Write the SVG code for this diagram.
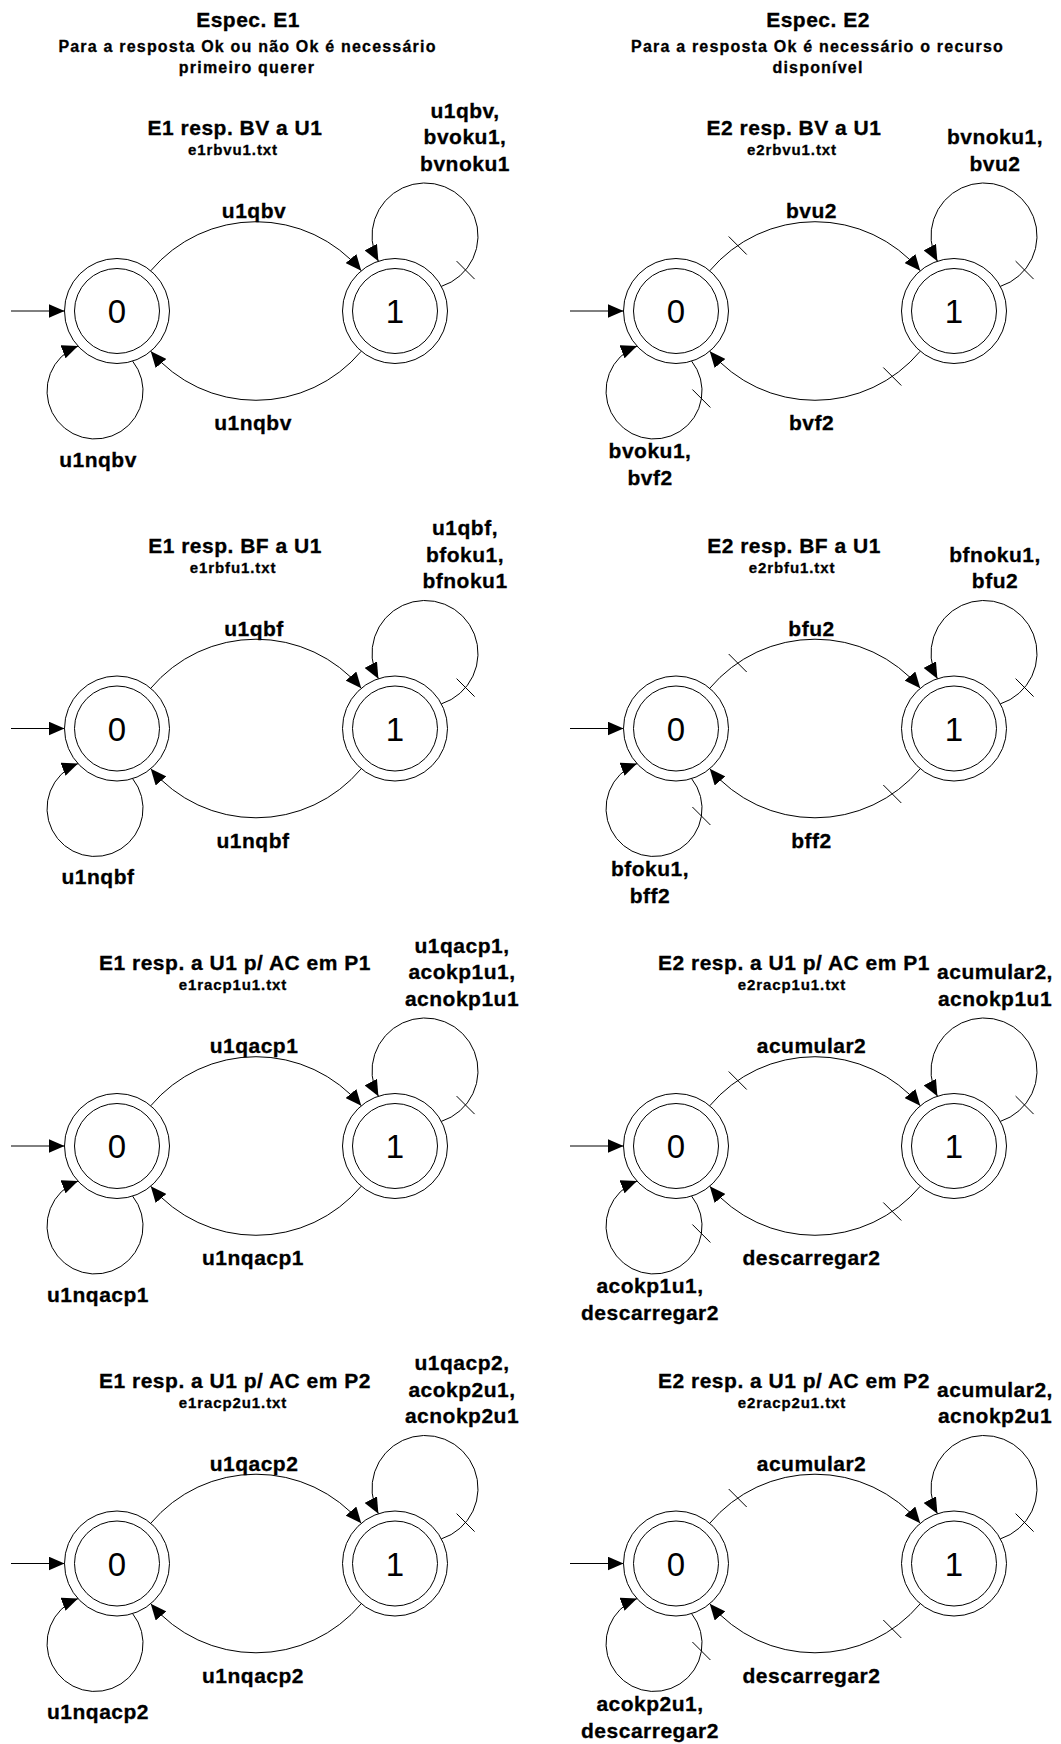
<svg xmlns="http://www.w3.org/2000/svg" width="1061" height="1744" viewBox="0 0 1061 1744">
<style>
.bg{fill:#fff}
circle{fill:none;stroke:#000;stroke-width:1}
.c path,.c line{fill:none;stroke:#000;stroke-width:1}
.c .arr{marker-end:url(#ah)}
text{font-family:"Liberation Sans",Arial,sans-serif;fill:#000;text-anchor:middle}
.h,.sub,.t,.f,.l{font-weight:bold;stroke:#000;stroke-width:0.3px}
.h{font-size:21px;letter-spacing:0.5px}
.sub{font-size:16px;letter-spacing:1.2px}
.t{font-size:21px;letter-spacing:0.5px}
.f{font-size:15px;letter-spacing:0.9px}
.l{font-size:21px;letter-spacing:0.5px}
.st{font-size:33px}
</style>
<defs>
<marker id="ah" viewBox="0 0 16 14" refX="16" refY="7" markerWidth="16" markerHeight="14" orient="auto" markerUnits="userSpaceOnUse"><path d="M0,0 L16,7 L0,14 z" fill="#000"/></marker>
</defs>
<rect class="bg" width="1061" height="1744"/>

<g id="headers">
<text class="h" x="248" y="27">Espec. E1</text>
<text class="sub" x="247.5" y="51.5">Para a resposta Ok ou não Ok é necessário</text>
<text class="sub" x="247" y="73">primeiro querer</text>
<text class="h" x="818" y="27">Espec. E2</text>
<text class="sub" x="817.5" y="51.5">Para a resposta Ok é necessário o recurso</text>
<text class="sub" x="818" y="73">disponível</text>
</g>

<!-- Row 1 E1 -->
<g id="e1-bv" transform="translate(117,311)">
<text class="t" x="118" y="-176">E1 resp. BV a U1</text>
<text class="f" x="116" y="-156">e1rbvu1.txt</text>
<g id="e1-bv-s0"><circle r="52.5"/><circle r="42.5"/><text class="st" y="12">0</text></g>
<g id="e1-bv-s1" transform="translate(278,0)"><circle r="52.5"/><circle r="42.5"/><text class="st" y="12">1</text></g>
<g id="e1-bv-edges" class="c">
<line class="arr" x1="-106" y1="0" x2="-52.5" y2="0"/>
<path class="arr" d="M33.75,-40.22 A137.4,137.4 0 0 1 244.25,-40.22"/>
<path class="arr" d="M244.25,40.22 A137.4,137.4 0 0 1 33.75,40.22"/>
<path class="arr" d="M324.3,-24.6 A53,53 0 1 0 261.4,-49.8"/>
<path class="arr" d="M15.6,50.1 A48,48 0 1 1 -39,35.1"/>
<line x1="339.6" y1="-49.9" x2="357.6" y2="-31.9"/>
</g>
<text class="l" x="137" y="-93">u1qbv</text>
<text class="l" x="136" y="119">u1nqbv</text>
<text class="l" x="348" y="-193.5">u1qbv,</text>
<text class="l" x="348" y="-167">bvoku1,</text>
<text class="l" x="348" y="-140.5">bvnoku1</text>
<text class="l" x="-19" y="155.7">u1nqbv</text>
</g>

<!-- Row 1 E2 -->
<g id="e2-bv" transform="translate(676,311)">
<text class="t" x="118" y="-176">E2 resp. BV a U1</text>
<text class="f" x="116" y="-156">e2rbvu1.txt</text>
<g id="e2-bv-s0"><circle r="52.5"/><circle r="42.5"/><text class="st" y="12">0</text></g>
<g id="e2-bv-s1" transform="translate(278,0)"><circle r="52.5"/><circle r="42.5"/><text class="st" y="12">1</text></g>
<g id="e2-bv-edges" class="c">
<line class="arr" x1="-106" y1="0" x2="-52.5" y2="0"/>
<path class="arr" d="M33.75,-40.22 A137.4,137.4 0 0 1 244.25,-40.22"/>
<path class="arr" d="M244.25,40.22 A137.4,137.4 0 0 1 33.75,40.22"/>
<path class="arr" d="M324.3,-24.6 A53,53 0 1 0 261.4,-49.8"/>
<path class="arr" d="M15.6,50.1 A48,48 0 1 1 -39,35.1"/>
<line x1="339.6" y1="-49.9" x2="357.6" y2="-31.9"/>
<line x1="52.7" y1="-74.5" x2="70.7" y2="-56.5"/>
<line x1="207.3" y1="56.5" x2="225.3" y2="74.5"/>
<line x1="16.4" y1="78.5" x2="34.4" y2="96.5"/>
</g>
<text class="l" x="135.5" y="-93">bvu2</text>
<text class="l" x="135.5" y="119">bvf2</text>
<text class="l" x="319" y="-167">bvnoku1,</text>
<text class="l" x="319" y="-140.5">bvu2</text>
<text class="l" x="-26" y="147.3">bvoku1,</text>
<text class="l" x="-26" y="174">bvf2</text>
</g>

<!-- Row 2 E1 -->
<g id="e1-bf" transform="translate(117,728.5)">
<text class="t" x="118" y="-176">E1 resp. BF a U1</text>
<text class="f" x="116" y="-156">e1rbfu1.txt</text>
<g id="e1-bf-s0"><circle r="52.5"/><circle r="42.5"/><text class="st" y="12">0</text></g>
<g id="e1-bf-s1" transform="translate(278,0)"><circle r="52.5"/><circle r="42.5"/><text class="st" y="12">1</text></g>
<g id="e1-bf-edges" class="c">
<line class="arr" x1="-106" y1="0" x2="-52.5" y2="0"/>
<path class="arr" d="M33.75,-40.22 A137.4,137.4 0 0 1 244.25,-40.22"/>
<path class="arr" d="M244.25,40.22 A137.4,137.4 0 0 1 33.75,40.22"/>
<path class="arr" d="M324.3,-24.6 A53,53 0 1 0 261.4,-49.8"/>
<path class="arr" d="M15.6,50.1 A48,48 0 1 1 -39,35.1"/>
<line x1="339.6" y1="-49.9" x2="357.6" y2="-31.9"/>
</g>
<text class="l" x="137" y="-93">u1qbf</text>
<text class="l" x="136" y="119">u1nqbf</text>
<text class="l" x="348" y="-193.5">u1qbf,</text>
<text class="l" x="348" y="-167">bfoku1,</text>
<text class="l" x="348" y="-140.5">bfnoku1</text>
<text class="l" x="-19" y="155.7">u1nqbf</text>
</g>

<!-- Row 2 E2 -->
<g id="e2-bf" transform="translate(676,728.5)">
<text class="t" x="118" y="-176">E2 resp. BF a U1</text>
<text class="f" x="116" y="-156">e2rbfu1.txt</text>
<g id="e2-bf-s0"><circle r="52.5"/><circle r="42.5"/><text class="st" y="12">0</text></g>
<g id="e2-bf-s1" transform="translate(278,0)"><circle r="52.5"/><circle r="42.5"/><text class="st" y="12">1</text></g>
<g id="e2-bf-edges" class="c">
<line class="arr" x1="-106" y1="0" x2="-52.5" y2="0"/>
<path class="arr" d="M33.75,-40.22 A137.4,137.4 0 0 1 244.25,-40.22"/>
<path class="arr" d="M244.25,40.22 A137.4,137.4 0 0 1 33.75,40.22"/>
<path class="arr" d="M324.3,-24.6 A53,53 0 1 0 261.4,-49.8"/>
<path class="arr" d="M15.6,50.1 A48,48 0 1 1 -39,35.1"/>
<line x1="339.6" y1="-49.9" x2="357.6" y2="-31.9"/>
<line x1="52.7" y1="-74.5" x2="70.7" y2="-56.5"/>
<line x1="207.3" y1="56.5" x2="225.3" y2="74.5"/>
<line x1="16.4" y1="78.5" x2="34.4" y2="96.5"/>
</g>
<text class="l" x="135.5" y="-93">bfu2</text>
<text class="l" x="135.5" y="119">bff2</text>
<text class="l" x="319" y="-167">bfnoku1,</text>
<text class="l" x="319" y="-140.5">bfu2</text>
<text class="l" x="-26" y="147.3">bfoku1,</text>
<text class="l" x="-26" y="174">bff2</text>
</g>

<!-- Row 3 E1 -->
<g id="e1-acp1" transform="translate(117,1146)">
<text class="t" x="118" y="-176">E1 resp. a U1 p/ AC em P1</text>
<text class="f" x="116" y="-156">e1racp1u1.txt</text>
<g id="e1-acp1-s0"><circle r="52.5"/><circle r="42.5"/><text class="st" y="12">0</text></g>
<g id="e1-acp1-s1" transform="translate(278,0)"><circle r="52.5"/><circle r="42.5"/><text class="st" y="12">1</text></g>
<g id="e1-acp1-edges" class="c">
<line class="arr" x1="-106" y1="0" x2="-52.5" y2="0"/>
<path class="arr" d="M33.75,-40.22 A137.4,137.4 0 0 1 244.25,-40.22"/>
<path class="arr" d="M244.25,40.22 A137.4,137.4 0 0 1 33.75,40.22"/>
<path class="arr" d="M324.3,-24.6 A53,53 0 1 0 261.4,-49.8"/>
<path class="arr" d="M15.6,50.1 A48,48 0 1 1 -39,35.1"/>
<line x1="339.6" y1="-49.9" x2="357.6" y2="-31.9"/>
</g>
<text class="l" x="137" y="-93">u1qacp1</text>
<text class="l" x="136" y="119">u1nqacp1</text>
<text class="l" x="345" y="-193.5">u1qacp1,</text>
<text class="l" x="345" y="-167">acokp1u1,</text>
<text class="l" x="345" y="-140.5">acnokp1u1</text>
<text class="l" x="-19" y="155.7">u1nqacp1</text>
</g>

<!-- Row 3 E2 -->
<g id="e2-acp1" transform="translate(676,1146)">
<text class="t" x="118" y="-176">E2 resp. a U1 p/ AC em P1</text>
<text class="f" x="116" y="-156">e2racp1u1.txt</text>
<g id="e2-acp1-s0"><circle r="52.5"/><circle r="42.5"/><text class="st" y="12">0</text></g>
<g id="e2-acp1-s1" transform="translate(278,0)"><circle r="52.5"/><circle r="42.5"/><text class="st" y="12">1</text></g>
<g id="e2-acp1-edges" class="c">
<line class="arr" x1="-106" y1="0" x2="-52.5" y2="0"/>
<path class="arr" d="M33.75,-40.22 A137.4,137.4 0 0 1 244.25,-40.22"/>
<path class="arr" d="M244.25,40.22 A137.4,137.4 0 0 1 33.75,40.22"/>
<path class="arr" d="M324.3,-24.6 A53,53 0 1 0 261.4,-49.8"/>
<path class="arr" d="M15.6,50.1 A48,48 0 1 1 -39,35.1"/>
<line x1="339.6" y1="-49.9" x2="357.6" y2="-31.9"/>
<line x1="52.7" y1="-74.5" x2="70.7" y2="-56.5"/>
<line x1="207.3" y1="56.5" x2="225.3" y2="74.5"/>
<line x1="16.4" y1="78.5" x2="34.4" y2="96.5"/>
</g>
<text class="l" x="135.5" y="-93">acumular2</text>
<text class="l" x="135.5" y="119">descarregar2</text>
<text class="l" x="319" y="-167">acumular2,</text>
<text class="l" x="319" y="-140.5">acnokp1u1</text>
<text class="l" x="-26" y="147.3">acokp1u1,</text>
<text class="l" x="-26" y="174">descarregar2</text>
</g>

<!-- Row 4 E1 -->
<g id="e1-acp2" transform="translate(117,1563.5)">
<text class="t" x="118" y="-176">E1 resp. a U1 p/ AC em P2</text>
<text class="f" x="116" y="-156">e1racp2u1.txt</text>
<g id="e1-acp2-s0"><circle r="52.5"/><circle r="42.5"/><text class="st" y="12">0</text></g>
<g id="e1-acp2-s1" transform="translate(278,0)"><circle r="52.5"/><circle r="42.5"/><text class="st" y="12">1</text></g>
<g id="e1-acp2-edges" class="c">
<line class="arr" x1="-106" y1="0" x2="-52.5" y2="0"/>
<path class="arr" d="M33.75,-40.22 A137.4,137.4 0 0 1 244.25,-40.22"/>
<path class="arr" d="M244.25,40.22 A137.4,137.4 0 0 1 33.75,40.22"/>
<path class="arr" d="M324.3,-24.6 A53,53 0 1 0 261.4,-49.8"/>
<path class="arr" d="M15.6,50.1 A48,48 0 1 1 -39,35.1"/>
<line x1="339.6" y1="-49.9" x2="357.6" y2="-31.9"/>
</g>
<text class="l" x="137" y="-93">u1qacp2</text>
<text class="l" x="136" y="119">u1nqacp2</text>
<text class="l" x="345" y="-193.5">u1qacp2,</text>
<text class="l" x="345" y="-167">acokp2u1,</text>
<text class="l" x="345" y="-140.5">acnokp2u1</text>
<text class="l" x="-19" y="155.7">u1nqacp2</text>
</g>

<!-- Row 4 E2 -->
<g id="e2-acp2" transform="translate(676,1563.5)">
<text class="t" x="118" y="-176">E2 resp. a U1 p/ AC em P2</text>
<text class="f" x="116" y="-156">e2racp2u1.txt</text>
<g id="e2-acp2-s0"><circle r="52.5"/><circle r="42.5"/><text class="st" y="12">0</text></g>
<g id="e2-acp2-s1" transform="translate(278,0)"><circle r="52.5"/><circle r="42.5"/><text class="st" y="12">1</text></g>
<g id="e2-acp2-edges" class="c">
<line class="arr" x1="-106" y1="0" x2="-52.5" y2="0"/>
<path class="arr" d="M33.75,-40.22 A137.4,137.4 0 0 1 244.25,-40.22"/>
<path class="arr" d="M244.25,40.22 A137.4,137.4 0 0 1 33.75,40.22"/>
<path class="arr" d="M324.3,-24.6 A53,53 0 1 0 261.4,-49.8"/>
<path class="arr" d="M15.6,50.1 A48,48 0 1 1 -39,35.1"/>
<line x1="339.6" y1="-49.9" x2="357.6" y2="-31.9"/>
<line x1="52.7" y1="-74.5" x2="70.7" y2="-56.5"/>
<line x1="207.3" y1="56.5" x2="225.3" y2="74.5"/>
<line x1="16.4" y1="78.5" x2="34.4" y2="96.5"/>
</g>
<text class="l" x="135.5" y="-93">acumular2</text>
<text class="l" x="135.5" y="119">descarregar2</text>
<text class="l" x="319" y="-167">acumular2,</text>
<text class="l" x="319" y="-140.5">acnokp2u1</text>
<text class="l" x="-26" y="147.3">acokp2u1,</text>
<text class="l" x="-26" y="174">descarregar2</text>
</g>
</svg>
